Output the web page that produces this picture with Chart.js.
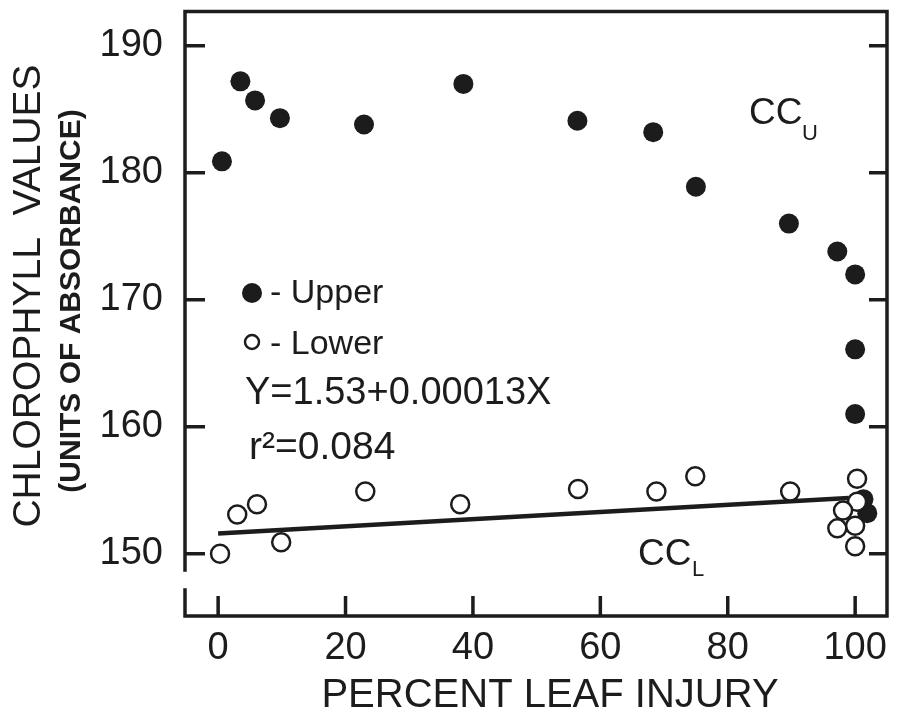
<!DOCTYPE html>
<html>
<head>
<meta charset="utf-8">
<script src="https://cdn.jsdelivr.net/npm/chart.js@4.4.1/dist/chart.umd.min.js"></script>
<style>
  html, body { margin: 0; padding: 0; background: #fff; }
  #wrap { position: relative; width: 902px; height: 715px; }
</style>
</head>
<body>
<div id="wrap"><canvas id="chart"></canvas></div>
<script>
// ── Data ──
var upperX = [0.6, 3.5, 5.8, 9.7, 22.9, 38.5, 56.4, 68.3, 75.0, 89.6, 97.2, 100, 100, 100, 101.3, 101.9];
var upperY = [180.9, 187.2, 185.7, 184.3, 183.8, 187.0, 184.1, 183.2, 178.9, 176.0, 173.8, 172.0, 166.1, 161.0, 154.3, 153.2];

var lowerX = [0.3, 3.0, 6.1, 9.9, 23.1, 38.0, 56.5, 68.8, 74.9, 89.8, 100.3, 100.3, 98.1, 97.2, 100, 100];
var lowerY = [150.0, 153.1, 153.9, 150.9, 154.9, 153.9, 155.1, 154.9, 156.1, 154.9, 155.9, 154.1, 153.4, 152.0, 152.2, 150.6];

var fitX = [0, 99];
var fitY = [151.6, 154.4];

var xTicks = [0, 20, 40, 60, 80, 100];
var yTicks = [150, 160, 170, 180, 190];

var INK = '#1c1c1c';
var FONT = "'Liberation Sans', Arial, sans-serif";

function pts(xs, ys) {
  return xs.map(function(x, i) { return { x: x, y: ys[i] }; });
}

// ── Frame, inward ticks and annotations ──
var frame = {
  id: 'frame',
  afterDraw: function(chart) {
    var ctx = chart.ctx, a = chart.chartArea;
    var xs = chart.scales.x, ys = chart.scales.y;
    var L = a.left, R = a.right, T = a.top, B = a.bottom;
    ctx.save();
    ctx.strokeStyle = INK;
    ctx.lineCap = 'square';

    // box with a break in the left spine
    ctx.lineWidth = 3.5;
    ctx.beginPath();
    ctx.moveTo(L, 570); ctx.lineTo(L, T); ctx.lineTo(R, T); ctx.lineTo(R, B); ctx.lineTo(L, B); ctx.lineTo(L, 590);
    ctx.stroke();

    // inward ticks
    ctx.lineCap = 'butt';
    ctx.beginPath();
    yTicks.forEach(function(v) {
      var p = ys.getPixelForValue(v);
      ctx.moveTo(L, p); ctx.lineTo(L + 20, p);
      ctx.moveTo(R, p); ctx.lineTo(R - 18, p);
    });
    xTicks.forEach(function(v) {
      var p = xs.getPixelForValue(v);
      ctx.moveTo(p, B); ctx.lineTo(p, B - 20);
    });
    ctx.stroke();

    // axis titles
    ctx.fillStyle = INK;
    ctx.textBaseline = 'middle';
    ctx.textAlign = 'center';
    ctx.font = '40px ' + FONT;
    ctx.fillText('PERCENT LEAF INJURY', 550, 696);

    ctx.save();
    ctx.translate(29, 296);
    ctx.rotate(-Math.PI / 2);
    ctx.font = '39px ' + FONT;
    ctx.fillText('CHLOROPHYLL  VALUES', 0, 0);
    ctx.restore();

    ctx.save();
    ctx.translate(72, 301);
    ctx.rotate(-Math.PI / 2);
    ctx.font = 'bold 30px ' + FONT;
    ctx.fillText('(UNITS OF ABSORBANCE)', 0, 0);
    ctx.restore();

    // legend
    ctx.textAlign = 'left';
    ctx.beginPath();
    ctx.arc(252, 293, 10, 0, Math.PI * 2);
    ctx.fill();
    ctx.lineWidth = 2.5;
    ctx.beginPath();
    ctx.arc(252, 342, 7, 0, Math.PI * 2);
    ctx.stroke();
    ctx.font = '34px ' + FONT;
    ctx.fillText('- Upper', 270, 294);
    ctx.fillText('- Lower', 270, 345);

    // regression text
    ctx.font = '38px ' + FONT;
    ctx.fillText('Y=1.53+0.00013X', 245, 394);
    ctx.font = '39px ' + FONT;
    ctx.fillText('r\u00b2=0.084', 249, 448);

    // curve labels
    ctx.font = '37px ' + FONT;
    ctx.fillText('CC', 749, 114);
    ctx.fillText('CC', 638, 555);
    ctx.font = '22px ' + FONT;
    ctx.fillText('U', 802, 134);
    ctx.fillText('L', 692, 570);
    ctx.restore();
  }
};

var tickFont = { family: FONT, size: 38 };

new Chart(document.getElementById('chart'), {
  type: 'scatter',
  data: {
    datasets: [
      {
        label: 'Lower',
        data: pts(lowerX, lowerY),
        pointRadius: 9, pointHoverRadius: 9,
        pointBackgroundColor: '#fff', pointBorderColor: INK, pointBorderWidth: 2.5,
        order: 0
      },
      {
        label: 'Upper',
        data: pts(upperX, upperY),
        pointRadius: 10, pointHoverRadius: 10,
        pointBackgroundColor: INK, pointBorderColor: INK, pointBorderWidth: 0,
        order: 2
      },
      {
        type: 'line',
        label: 'Fit',
        data: pts(fitX, fitY),
        borderColor: INK, borderWidth: 4.5, pointRadius: 0, fill: false,
        order: 1
      }
    ]
  },
  options: {
    responsive: true,
    maintainAspectRatio: false,
    animation: false,
    layout: { padding: { top: 8, right: 15, left: 0, bottom: 0 } },
    plugins: { legend: { display: false }, tooltip: { enabled: false } },
    scales: {
      x: {
        type: 'linear', min: -5.2, max: 105,
        border: { display: false },
        grid: { display: false, drawTicks: false, tickLength: 0 },
        afterBuildTicks: function(s) { s.ticks = xTicks.map(function(v) { return { value: v }; }); },
        afterFit: function(s) { s.height = 99; s.paddingLeft = 0; s.paddingRight = 0; },
        ticks: { font: tickFont, color: INK, padding: 10, maxRotation: 0 }
      },
      y: {
        type: 'linear', min: 145.1, max: 192.7,
        border: { display: false },
        grid: { display: false, drawTicks: false, tickLength: 0 },
        afterBuildTicks: function(s) { s.ticks = yTicks.map(function(v) { return { value: v }; }); },
        afterFit: function(s) { s.width = 185; s.paddingTop = 0; s.paddingBottom = 0; },
        ticks: { font: tickFont, color: INK, padding: 22 }
      }
    }
  },
  plugins: [frame]
});
</script>
</body>
</html>
